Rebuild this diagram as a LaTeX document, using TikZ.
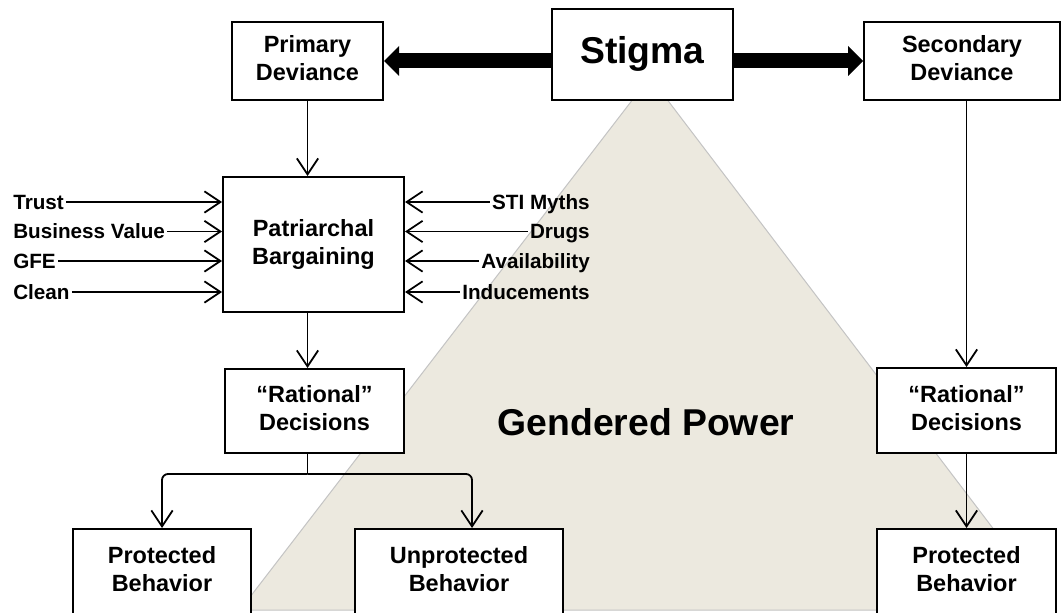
\documentclass[tikz,border=0pt]{standalone}
\usepackage{fontspec}
\setmainfont{Liberation Sans}
\usetikzlibrary{arrows.meta,calc}
\definecolor{tanfill}{HTML}{ECE9DF}
\definecolor{tanedge}{HTML}{C4C4C4}
\newcommand{\bxfont}{\fontsize{17.6pt}{21pt}\selectfont\bfseries}
\newcommand{\lbfont}{\fontsize{15.5pt}{18pt}\selectfont\bfseries}
\newcommand{\bigfont}{\fontsize{28pt}{34pt}\selectfont\bfseries}
\begin{document}
\begin{tikzpicture}[x=0.75pt,y=-0.75pt,
  box/.style={draw=black, line width=1.5pt, fill=white, align=center, inner sep=0pt, font=\bxfont},
  lab/.style={inner xsep=1.5pt, inner ysep=0pt, font=\lbfont, text height=11.1pt, text depth=0pt},
  arr/.style={line width=1.35pt, -{Straight Barb[length=12pt,width=16pt]}},
  bigarr/.style={line width=11.25pt, -{Triangle[length=11.25pt,width=22.5pt,line width=0pt]}}]
\useasboundingbox (0,0) rectangle (1061,613);
\fill[white] (0,0) rectangle (1061,613);
\clip (0,0) rectangle (1061,613);

% background triangle
\filldraw[fill=tanfill, draw=tanedge, line width=0.75pt] (650,77) -- (240,610) -- (1055,610) -- cycle;
\node[font=\bigfont] (gp) at (646,422) {Gendered Power};

% boxes
\node[box, minimum width=113.25pt, minimum height=58.5pt] (prim) at (307.5,61) {Primary\strut\\Deviance\strut};
\node[box, minimum width=135.75pt, minimum height=68.25pt, font=\bigfont] (stig) at (642.5,54.5) {Stigma\strut};
\node[box, minimum width=147pt, minimum height=58.5pt] (sec) at (962,61) {Secondary\strut\\Deviance\strut};
\node[box, minimum width=135.75pt, minimum height=101.25pt] (patr) at (313.5,244.5) {Patriarchal\strut\\Bargaining\strut};
\node[box, minimum width=134.25pt, minimum height=63pt] (ratL) at (314.5,411) {“Rational”\strut\\Decisions\strut};
\node[box, minimum width=134.25pt, minimum height=63.75pt] (ratR) at (966.5,410.5) {“Rational”\strut\\Decisions\strut};
\node[box, minimum width=133.5pt, minimum height=63.75pt] (protL) at (162,571.5) {Protected\strut\\Behavior\strut};
\node[box, minimum width=156pt, minimum height=63.75pt] (protU) at (459,571.5) {Unprotected\strut\\Behavior\strut};
\node[box, minimum width=134.25pt, minimum height=63.75pt] (protR) at (966.5,571.5) {Protected\strut\\Behavior\strut};

% input labels
\node[lab, anchor=west] (trust) at (11,202) {Trust};
\node[lab, anchor=west] (bval) at (11,231.5) {Business Value};
\node[lab, anchor=west] (gfe) at (11,261) {GFE};
\node[lab, anchor=west] (clean) at (11,292) {Clean};
\node[lab, anchor=east] (sti) at (592,202) {STI Myths};
\node[lab, anchor=east] (drugs) at (592,231.5) {Drugs};
\node[lab, anchor=east] (avail) at (592,261) {Availability};
\node[lab, anchor=east] (induce) at (592,292) {Inducements};

\foreach \n in {trust,bval,gfe,clean}
  \draw[arr] (\n) -- (\n -| patr.west);
\foreach \n in {sti,drugs,avail,induce}
  \draw[arr] (\n) -- (\n -| patr.east);

% stigma arrows
\draw[bigarr] (stig.west |- prim.east) -- (prim.east);
\draw[bigarr] (stig.east |- sec.west) -- (sec.west);

% left chain
\draw[arr] (prim.south) -- (prim.south |- patr.north);
\draw[arr] (prim.south |- patr.south) -- (prim.south |- ratL.north);
\draw[line width=1.35pt] (prim.south |- ratL.south) -- ++(0,20) coordinate (j);
\draw[arr, rounded corners=4.5pt] (j) -| (protL.north);
\draw[arr, rounded corners=4.5pt] (j) -| ([xshift=9.75pt]protU.north);

% right chain
\draw[arr] (ratR |- sec.south) -- (ratR.north);
\draw[arr] (ratR.south) -- (protR.north);
\end{tikzpicture}
\end{document}
